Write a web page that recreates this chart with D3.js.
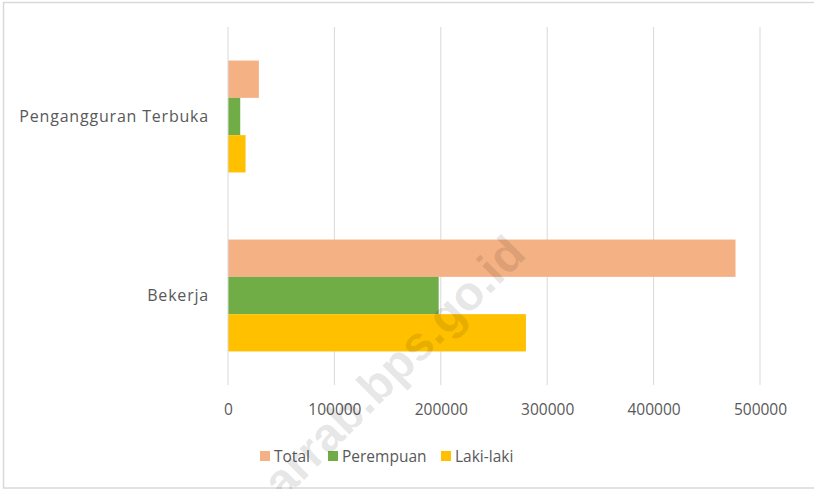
<!DOCTYPE html>
<html><head><meta charset="utf-8">
<script src="https://cdn.jsdelivr.net/npm/d3@7"></script>
<style>body{margin:0;background:#fff}svg{display:block}</style>
</head><body>
<svg id="c" width="814" height="489"></svg>
<script>
const categories = ["Pengangguran Terbuka", "Bekerja"];
const seriesNames = ["Total", "Perempuan", "Laki-laki"];
const seriesColors = ["#F4B183", "#70AD47", "#FFC000"];
const totalValues = [29000, 477000];
const perempuanValues = [11500, 198000];
const lakiValues = [16500, 280000];
const xTicks = [0, 100000, 200000, 300000, 400000, 500000];

(function () {
const values = [totalValues, perempuanValues, lakiValues];
const svg = d3.select("#c");
const font = "'Open Sans', sans-serif";
const textColor = "#595959";

// chart border
svg.append("rect").attr("x", 3.5).attr("y", 2.5).attr("width", 830).attr("height", 485.5)
  .attr("fill", "none").attr("stroke", "#D9D9D9").attr("stroke-width", 1.5);

const pL = 228, pR = 760, pT = 27, pB = 385;
const x = d3.scaleLinear().domain([0, 500000]).range([pL, pR]);
const y = d3.scaleBand().domain(categories).range([pT, pB]).paddingInner(0.375).paddingOuter(0.1875);
const ys = d3.scaleBand().domain(seriesNames).range([0, y.bandwidth()]);

// gridlines
svg.append("g").selectAll("line").data(xTicks.slice(1)).join("line")
  .attr("x1", d => x(d)).attr("x2", d => x(d)).attr("y1", pT).attr("y2", pB)
  .attr("stroke", "#D9D9D9").attr("stroke-width", 1);

// bars
seriesNames.forEach((s, i) => {
  svg.append("g").selectAll("rect").data(categories).join("rect")
    .attr("x", x(0))
    .attr("y", c => y(c) + ys(s))
    .attr("width", (c, j) => x(values[i][j]) - x(0))
    .attr("height", ys.bandwidth())
    .attr("fill", seriesColors[i]);
});

// vertical axis line
svg.append("line").attr("x1", x(0)).attr("x2", x(0)).attr("y1", pT).attr("y2", pB)
  .attr("stroke", "#D9D9D9").attr("stroke-width", 1);

// x axis tick labels
const xAxis = d3.axisBottom(x).tickValues(xTicks).tickSize(0).tickPadding(0).tickFormat(d3.format("d"));
const gx = svg.append("g").attr("transform", `translate(0,${pB + 30})`).call(xAxis);
gx.select(".domain").remove();
gx.selectAll("text").attr("font-family", font).attr("font-size", 15.5).attr("fill", textColor).attr("dy", 0);

// category labels
const yAxis = d3.axisLeft(y).tickSize(0).tickPadding(0);
const gy = svg.append("g").attr("transform", `translate(209,0)`).call(yAxis);
gy.select(".domain").remove();
gy.selectAll("text").attr("font-family", font).attr("font-size", 16).attr("letter-spacing", 0.8)
  .attr("fill", textColor).attr("dy", "0.35em");

// legend
const legendX = [260, 328, 441];
const lg = svg.append("g");
seriesNames.forEach((s, i) => {
  lg.append("rect").attr("x", legendX[i]).attr("y", 451).attr("width", 10).attr("height", 10).attr("fill", seriesColors[i]);
  lg.append("text").attr("x", legendX[i] + 14).attr("y", 461.5).text(s)
    .attr("font-family", font).attr("font-size", 15.5).attr("fill", textColor);
});

// watermark
svg.append("text").attr("transform", "translate(528,256) rotate(-45)")
  .attr("text-anchor", "end")
  .text("arrab.bps.go.id")
  .attr("font-family", "'Liberation Sans', Arial, sans-serif").attr("font-weight", "bold")
  .attr("font-size", 48).attr("fill", "#000").attr("fill-opacity", 0.11);
})();
</script>
</body></html>
